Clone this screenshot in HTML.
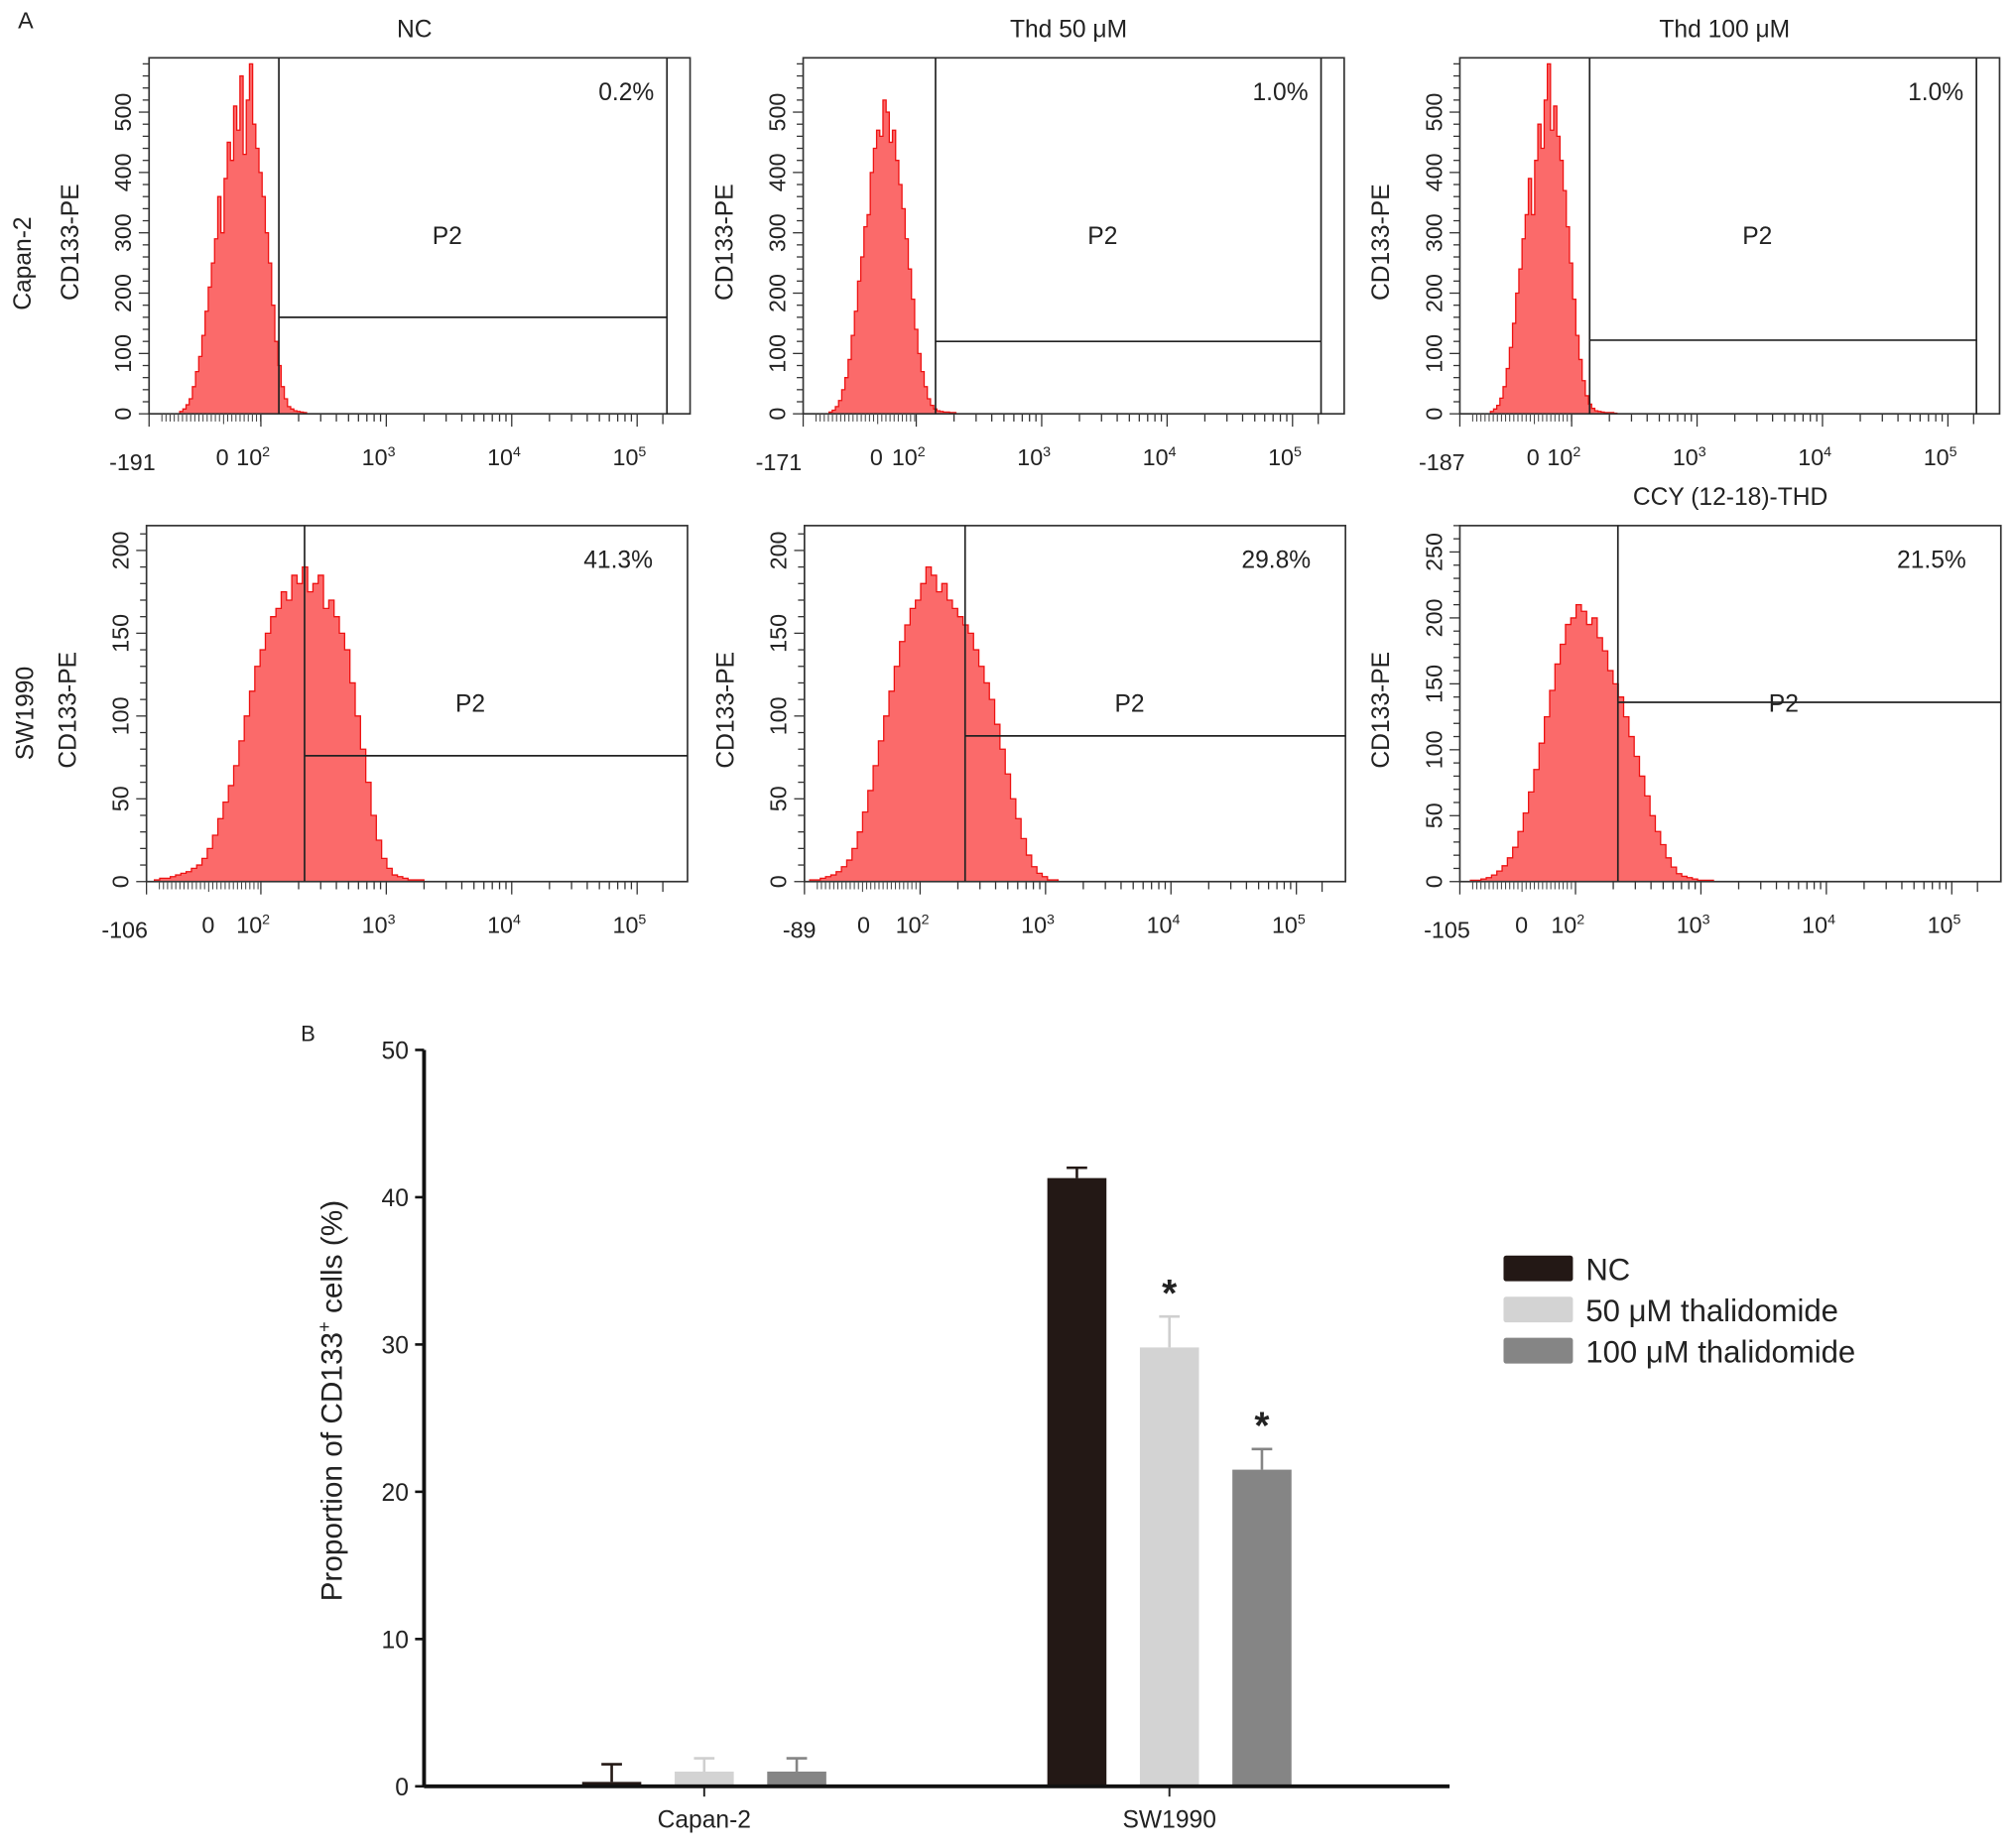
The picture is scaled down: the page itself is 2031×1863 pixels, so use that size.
<!DOCTYPE html>
<html><head><meta charset="utf-8">
<style>
html,body{margin:0;padding:0;background:#fff;}
svg{display:block;}
text{font-family:"Liberation Sans",Arial,sans-serif;fill:#222;}
</style></head>
<body>
<svg id="fig" width="2031" height="1863" viewBox="0 0 1568 1438" preserveAspectRatio="none" xmlns="http://www.w3.org/2000/svg">
<g id="root"></g>
</svg>
<script>
// ---------- Data: flow histograms (bin counts) ----------
const histCapanNC   = [4,8,15,25,45,70,95,130,170,210,250,290,360,300,390,450,420,510,470,560,430,520,580,480,440,400,360,300,250,180,120,80,45,25,12,8,5,4,3,2];
const histCapan50   = [3,6,12,22,40,60,90,130,170,220,260,310,330,400,440,470,460,520,500,450,470,420,380,340,290,240,190,140,100,70,45,25,14,8,5,4,3,3,2,2];
const histCapan100  = [4,8,14,26,45,75,110,150,200,240,290,330,390,330,420,480,440,520,580,470,510,460,420,370,310,250,190,130,90,55,30,16,9,5,4,3,2,2,2,1];
const histSwNC      = [1,2,2,3,4,5,6,8,10,14,20,28,38,48,58,70,85,100,115,130,140,150,160,165,175,170,185,180,190,175,180,185,165,170,160,150,140,120,100,80,60,40,25,14,8,4,3,2,1,1,1];
const histSw50      = [1,1,2,3,4,6,9,13,20,30,42,55,70,85,100,115,130,145,155,165,170,180,190,185,175,180,170,165,160,155,150,140,130,120,110,95,80,65,50,38,26,16,9,5,3,1,1];
const histSw100     = [1,1,2,3,5,8,12,18,26,38,52,68,85,105,125,145,165,180,195,200,210,205,195,200,185,175,160,150,140,125,110,95,80,65,50,38,28,18,11,6,4,3,2,1,1,1];
const percentLabels = ["0.2%","1.0%","1.0%","41.3%","29.8%","21.5%"];
const minLabels     = ["-191","-171","-187","-106","-89","-105"];
const decadeLabels  = ["2","3","4","5"];

// ---------- Data: bar chart ----------
const barGroups   = ["Capan-2","SW1990"];
const seriesNames = ["NC","50 μM thalidomide","100 μM thalidomide"];
const valNC   = [0.3, 41.3];
const val50   = [1.0, 29.8];
const val100  = [1.0, 21.5];
const errNC   = [1.2, 0.7];
const err50   = [0.9, 2.1];
const err100  = [0.9, 1.4];
const barTicks = [0,10,20,30,40,50];

const NS="http://www.w3.org/2000/svg";
const root=document.getElementById('root');
function mk(tag,attrs,parent,txt){const e=document.createElementNS(NS,tag);for(const k in attrs)e.setAttribute(k,attrs[k]);if(txt!==undefined)e.textContent=txt;(parent||root).appendChild(e);return e;}

// ---------- Flow panels ----------
const panels=[
 {x0:116,x1:537,y0:45,y1:322,ymax:590,step:100,minor:20,gx:217,gr:519,gy:160,zeroX:173,dec:203,minX:103,data:histCapanNC,start:58,bw:6,title:"NC",row:0},
 {x0:625,x1:1046,y0:45,y1:322,ymax:590,step:100,minor:20,gx:728,gr:1028,gy:120,zeroX:682,dec:713,minX:606,data:histCapan50,start:49,bw:6,title:"Thd 50 μM",row:0},
 {x0:1136,x1:1556,y0:45,y1:322,ymax:590,step:100,minor:20,gx:1237,gr:1538,gy:122,zeroX:1193,dec:1223,minX:1122,data:histCapan100,start:58,bw:6,title:"Thd 100 μM",row:0},
 {x0:114,x1:535,y0:409,y1:686,ymax:215,step:50,minor:10,gx:237,gr:null,gy:76,zeroX:162,dec:203,minX:97,data:histSwNC,start:15,bw:10,title:null,row:1},
 {x0:626,x1:1047,y0:409,y1:686,ymax:215,step:50,minor:10,gx:751,gr:null,gy:88,zeroX:672,dec:716,minX:622,data:histSw50,start:10,bw:10,title:null,row:1},
 {x0:1136,x1:1557,y0:409,y1:686,ymax:270,step:50,minor:10,gx:1259,gr:null,gy:136,zeroX:1184,dec:1226,minX:1126,data:histSw100,start:20,bw:10,title:"CCY (12-18)-THD",row:1}
];
panels.forEach((p,pi)=>{
  const g=mk('g',{});
  
  
  const W=p.x1-p.x0;
  const xCh=c=>p.x0+c*W/1024;
  const yS=v=>p.y1-v*(p.y1-p.y0)/p.ymax;
  let d='M'+xCh(p.start)+','+p.y1;
  p.data.forEach((v,i)=>{const xa=xCh(p.start+i*p.bw),xb=xCh(p.start+(i+1)*p.bw);d+=' L'+xa+','+yS(v)+' L'+xb+','+yS(v);});
  d+=' L'+xCh(p.start+p.data.length*p.bw)+','+p.y1+' Z';
  const h=mk('path',{d:d,fill:'#fb6a6a',stroke:'#ee1111','stroke-width':1},g);
  
  
  mk('rect',{x:p.x0,y:p.y0,width:W,height:p.y1-p.y0,fill:'none',stroke:'#333','stroke-width':1.3},g);
  mk('line',{x1:p.gx,y1:p.y0,x2:p.gx,y2:p.y1,stroke:'#222','stroke-width':1.3},g);
  const gr=p.gr||p.x1;
  if(p.gr) mk('line',{x1:p.gr,y1:p.y0,x2:p.gr,y2:p.y1,stroke:'#222','stroke-width':1.3},g);
  const gl=mk('line',{x1:p.gx,y1:yS(p.gy),x2:gr,y2:yS(p.gy),stroke:'#222','stroke-width':1.3},g);
  
  
  mk('text',{x:(p.gx+gr)/2-20,y:p.row?554:190,'font-size':19,'text-anchor':'middle'},g,'P2');
  mk('text',{x:p.gr?p.gr-10:p.x1-27,y:p.y0+33,'font-size':19,'text-anchor':'end'},g,percentLabels[pi]);
  if(p.title) mk('text',{x:p.x0+W/2+(p.row?0:-4),y:p.y0-16,'font-size':19,'text-anchor':'middle'},g,p.title);
  for(let v=0;v<=p.ymax;v+=p.minor){const major=v%p.step===0;mk('line',{x1:p.x0,y1:yS(v),x2:p.x0-(major?8:5),y2:yS(v),stroke:'#333','stroke-width':1},g);}
  for(let v=0;v<=p.ymax;v+=p.step){mk('text',{x:0,y:0,'font-size':18,'text-anchor':'middle',transform:`translate(${p.x0-14},${yS(v)}) rotate(-90)`},g,String(v));}
  mk('text',{x:0,y:0,'font-size':19,'text-anchor':'middle',transform:`translate(${p.x0-55},${(p.y0+p.y1)/2+5}) rotate(-90)`},g,'CD133-PE');
  const xb=p.y1;
  mk('line',{x1:p.x0,y1:xb,x2:p.x0,y2:xb+10,stroke:'#333'},g);
  for(let x=p.x0+10;x<p.dec;x+=3.2) mk('line',{x1:x,y1:xb,x2:x,y2:xb+((Math.abs(x-p.zeroX)<2)?8:6),stroke:'#444','stroke-width':0.8},g);
  const dw=97.6;
  for(let k=0;k<4;k++){
    const bx=p.dec+k*dw;
    mk('line',{x1:bx,y1:xb,x2:bx,y2:xb+10,stroke:'#333'},g);
    if(k<3) for(let m=2;m<=9;m++){const mx=bx+Math.log10(m)*dw;mk('line',{x1:mx,y1:xb,x2:mx,y2:xb+6,stroke:'#333'},g);}
    const t=mk('text',{x:bx-6,y:xb+40,'font-size':18,'text-anchor':'middle'},g,'10');
    mk('tspan',{'font-size':11,dy:-7},t,decadeLabels[k]);
  }
  mk('line',{x1:p.dec+3*dw+20,y1:xb,x2:p.dec+3*dw+20,y2:xb+8,stroke:'#333'},g);
  mk('text',{x:p.zeroX,y:xb+40,'font-size':18,'text-anchor':'middle'},g,'0');
  mk('text',{x:p.minX,y:xb+44,'font-size':18,'text-anchor':'middle'},g,minLabels[pi]);
});
mk('text',{x:0,y:0,'font-size':19,'text-anchor':'middle',transform:'translate(24,205) rotate(-90)'},root,'Capan-2');
mk('text',{x:0,y:0,'font-size':19,'text-anchor':'middle',transform:'translate(26,555) rotate(-90)'},root,'SW1990');
mk('text',{x:14,y:22,'font-size':18},root,'A');
mk('text',{x:234,y:810,'font-size':17},root,'B');

// ---------- Bar chart ----------
const bc=mk('g',{});


const bx0=330,bx1=1128,by0=1390,byTop=817;
const yB=v=>by0-v*(by0-byTop)/50;
const groupCenters=[548,910];
const offsets=[-72,0,72];
const colors=['#231815','#d3d3d3','#858585'];
const vals=[valNC,val50,val100], errs=[errNC,err50,err100];
const bw=46;
barGroups.forEach((gName,gi)=>{
  vals.forEach((arr,si)=>{
    const v=arr[gi],e=errs[si][gi],cx=groupCenters[gi]+offsets[si];
    const ec=colors[si]==='#d3d3d3'?'#cfcfcf':colors[si];
    const el=mk('line',{x1:cx,y1:yB(v),x2:cx,y2:yB(v+e),stroke:ec,'stroke-width':2},bc);
    
    
    mk('line',{x1:cx-8,y1:yB(v+e),x2:cx+8,y2:yB(v+e),stroke:ec,'stroke-width':2},bc);
    const r=mk('rect',{x:cx-bw/2,y:yB(v),width:bw,height:Math.max(0,by0-yB(v)),fill:colors[si]},bc);
    
    
    if(gi===1&&si>0) mk('text',{x:cx,y:yB(v+e)-8,'font-size':30,'font-weight':'bold','text-anchor':'middle',fill:'#111'},bc,'*');
  });
  mk('line',{x1:groupCenters[gi],y1:by0,x2:groupCenters[gi],y2:by0+8,stroke:'#222','stroke-width':1.5},bc);
  mk('text',{x:groupCenters[gi],y:by0+32,'font-size':19,'text-anchor':'middle'},bc,gName);
});
mk('line',{x1:bx0,y1:byTop,x2:bx0,y2:by0,stroke:'#111','stroke-width':3},bc);
mk('line',{x1:bx0,y1:by0,x2:bx1,y2:by0,stroke:'#111','stroke-width':3},bc);
barTicks.forEach(t=>{
  mk('line',{x1:bx0-7,y1:yB(t),x2:bx0,y2:yB(t),stroke:'#111','stroke-width':2},bc);
  mk('text',{x:bx0-12,y:yB(t)+7,'font-size':19,'text-anchor':'end'},bc,String(t));
});
const yt=mk('text',{x:0,y:0,'font-size':23,'text-anchor':'middle',transform:'translate(266,1090) rotate(-90)'},bc,'Proportion of CD133');
mk('tspan',{'font-size':14,dy:-9},yt,'+');
mk('tspan',{dy:9},yt,' cells (%)');
seriesNames.forEach((n,i)=>{
  const lg=mk('g',{},bc);
  
  
  mk('rect',{x:1170,y:977+i*32,width:54,height:20,rx:2,fill:colors[i]},lg);
  mk('text',{x:1234,y:996+i*32,'font-size':24},lg,n);
});
</script>
</body></html>
